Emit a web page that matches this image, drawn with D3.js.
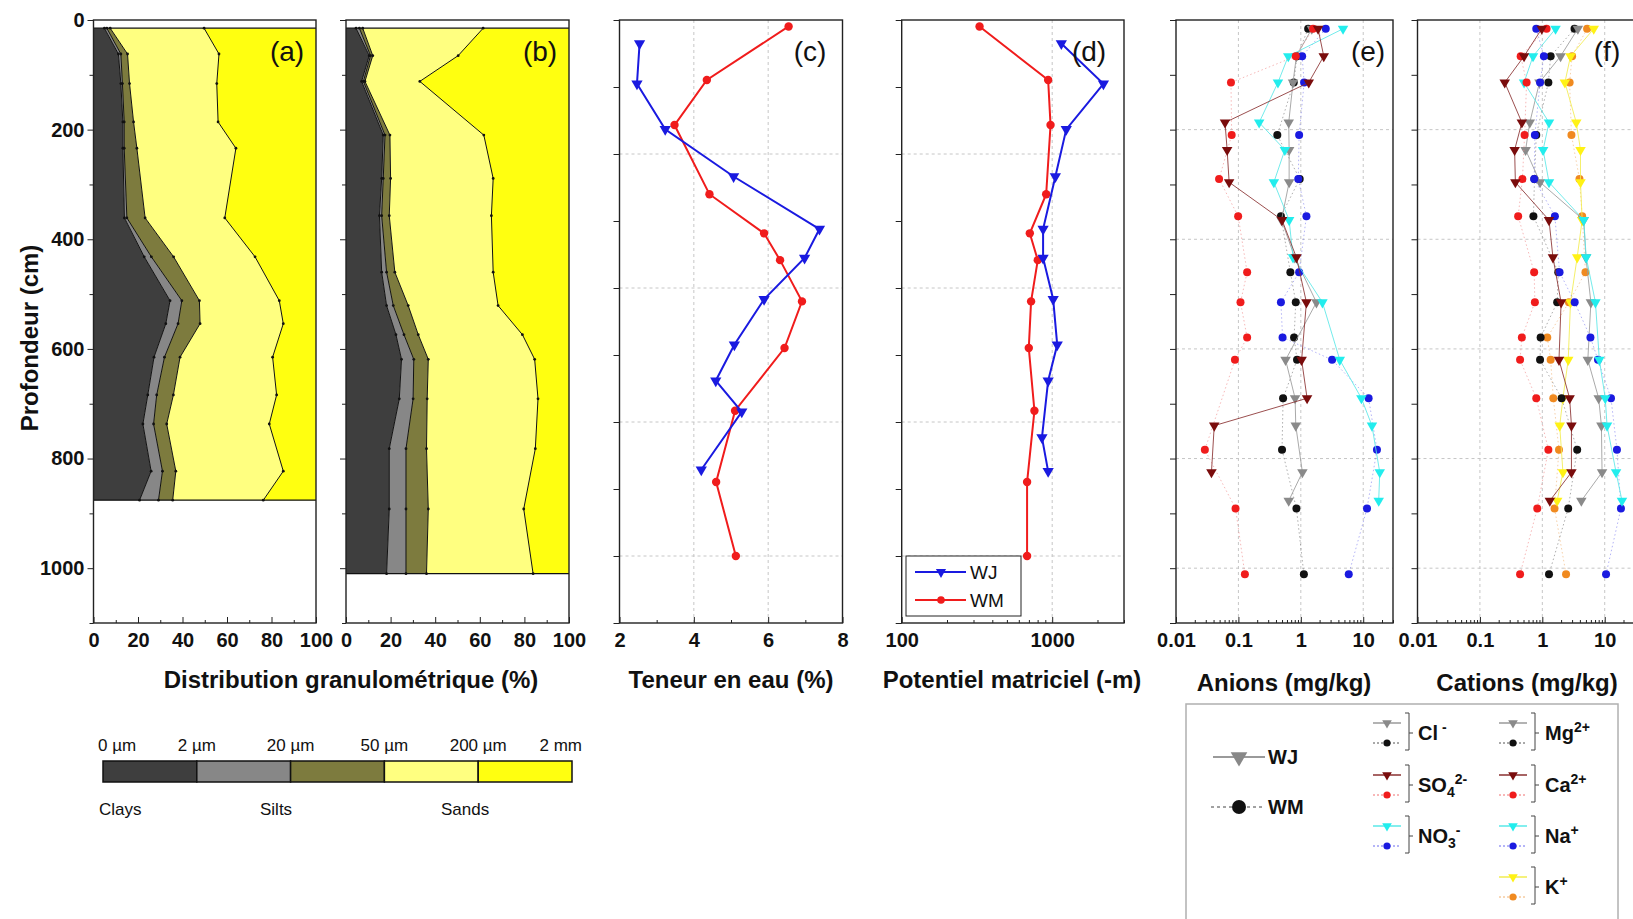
<!DOCTYPE html>
<html>
<head>
<meta charset="utf-8">
<title>Profils WJ / WM</title>
<script src="https://cdn.jsdelivr.net/npm/d3@7"></script>
<style>
  body { margin: 0; background: #fff; }
  svg text { font-family: Arial, "Liberation Sans", Helvetica, sans-serif; }
</style>
</head>
<body>
<script>
/* GLOBALS */
var W = 1633, H = 919;
var yTop = 20, yBot = 623;
var FONT = 'Arial, "Liberation Sans", sans-serif';

/* DATA */
// (a) granulometry WJ : depth (cm) and cumulative % finer than each size limit
var depthA = [15, 62, 116, 186, 234, 361, 432, 512, 554, 615, 684, 737, 823, 876];
var a2um   = [4.9, 11.2, 12.3, 13.2, 13.2, 13.9, 22.8, 34.4, 32.5, 27.2, 24.4, 22.2, 25.9, 20.7];
var a20um  = [6, 12.3, 13, 13.8, 13.8, 15, 26, 39.7, 38, 31.9, 28.4, 27, 31, 29.2];
var a50um  = [7.5, 15.3, 16.2, 18, 19.5, 23.2, 36, 47.6, 47.9, 38.9, 35.9, 32.9, 37, 35.6];
var a200um = [49.7, 56.4, 55.4, 56, 64, 59, 72.6, 83.5, 85.3, 80.5, 82.3, 79, 85.3, 76.3];

// (b) granulometry WM
var depthB = [15, 65, 112, 210, 289, 357, 460, 521, 574, 619, 691, 782, 892, 1010];
var b2um   = [4.5, 10.4, 7, 16.7, 16, 15, 16, 18.2, 22.4, 24.9, 23.9, 19.4, 19.4, 18.2];
var b20um  = [6, 11, 7.8, 17.5, 16.7, 16, 18.2, 21.2, 26, 30.4, 30.1, 26.9, 26.9, 26.9];
var b50um  = [7.5, 12, 8.5, 19.7, 20, 19.4, 21.9, 27.9, 32.4, 36.9, 36.4, 36.1, 36.9, 36.1];
var b200um = [61.5, 50.3, 33.1, 61.8, 66, 65.2, 66, 68.2, 79.1, 84.6, 86.1, 84.9, 79.7, 83.9];

// (c) water content (%) and (d) matric potential (-m)
var depthC_WJ = [44, 119, 204, 292, 390, 444, 521, 606, 673, 731, 839];
var depthD_WJ = [44, 119, 204, 292, 390, 444, 521, 606, 673, 779, 842];
var depthCD_WM = [12, 112, 196, 325, 398, 448, 525, 612, 729, 862, 1000];
var waterWJ = [2.54, 2.47, 3.23, 5.07, 7.38, 6.98, 5.89, 5.09, 4.59, 5.29, 4.20];
var waterWM = [6.55, 4.35, 3.48, 4.42, 5.89, 6.32, 6.91, 6.44, 5.11, 4.60, 5.13];
var potWJ = [1150, 2190, 1240, 1050, 870, 870, 1015, 1080, 940, 855, 940];
var potWM = [329, 940, 975, 912, 710, 802, 724, 699, 762, 681, 681];

// (e) anions and (f) cations (mg/kg)
var depthWJ = [16, 66, 114, 187, 237, 296, 365, 433, 515, 620, 690, 740, 825, 877];
var depthWM = [16, 66, 114, 210, 290, 358, 460, 515, 579, 620, 690, 784, 891, 1011];
var clWJ  = [1.5, 0.85, 0.75, 0.64, 0.65, 0.65, 0.49, 0.8, 1.78, 0.57, 0.81, 0.83, 1.06, 0.64];
var clWM  = [1.31, 0.87, 0.77, 0.42, 0.96, 0.48, 0.68, 0.83, 0.78, 0.87, 0.52, 0.50, 0.85, 1.12];
var so4WJ = [1.89, 2.33, 1.34, 0.061, 0.066, 0.071, 0.5, 0.85, 1.23, 1.03, 1.26, 0.041, 0.037, null];
var so4WM = [1.57, 0.83, 0.076, 0.078, 0.049, 0.099, 0.138, 0.108, 0.138, 0.088, null, 0.029, 0.090, 0.127];
var no3WJ = [4.75, 0.63, 0.43, 0.215, 0.555, 0.37, 0.65, 0.75, 2.22, 4.21, 9.35, 13.8, 18.4, 17.7];
var no3WM = [2.51, 1.05, 1.13, 0.94, 0.91, 1.23, 0.94, 0.48, 0.51, 3.17, 12.2, 16.6, 11.5, 5.86];
var mgWJ  = [3.71, 1.96, 0.9, 0.63, 0.54, 0.92, 4.6, 5.0, 6.0, 5.36, 8.0, 8.85, 9.06, 4.22];
var mgWM  = [3.28, 1.36, 1.25, 0.8, 0.75, 0.72, 1.8, 1.73, 0.94, 0.92, 2.04, 3.62, 2.6, 1.28];
var caWJ  = [0.98, 0.51, 0.25, 0.47, 0.36, 0.37, 1.28, 1.48, 2.0, 1.85, 2.74, 2.93, 2.93, 1.32];
var caWM  = [1.17, 0.45, 0.56, 0.52, 0.48, 0.41, 0.74, 0.76, 0.47, 0.44, 0.8, 1.25, 0.83, 0.44];
var naWJ  = [1.63, 0.71, 0.51, 1.28, 1.03, 1.28, 4.62, 5.05, 7.1, 8.2, 10.2, 10.9, 15.2, 18.9];
var naWM  = [0.8, 1.06, 0.92, 0.76, 0.74, 1.59, 1.89, 3.3, 5.9, 7.8, 12.6, 15.7, 18.2, 10.5];
var kWJ   = [6.67, 2.83, 2.3, 3.5, 4.09, 4.09, 4.35, 3.62, 2.83, 2.6, 2.14, 1.9, 2.14, 1.73];
var kWM   = [5.22, 3.0, 2.74, 2.93, 3.94, 4.35, 4.91, 2.67, 1.2, 1.36, 1.5, 1.85, 1.57, 2.4];

// tick labels and legend texts
var granTicks = [0, 20, 40, 60, 80, 100];
var waterTicks = [2, 4, 6, 8];
var potTicks = [100, 1000];
var ionTicks = [0.01, 0.1, 1, 10];
var sizeLimits = ['0 µm', '2 µm', '20 µm', '50 µm', '200 µm', '2 mm'];
var fractionNames = ['Clays', 'Silts', 'Sands'];
var siteNames = ['WJ', 'WM'];

/* STYLE */
var granColors = ['#3e3e3e', '#878787', '#7d7b3e', '#ffff80', '#ffff10'];
var C = {
  gray: '#8a8a8a', black: '#111111', dred: '#7a0c0c', red: '#f01c1c',
  cyan: '#22eded', blue: '#1a1ae0', yellow: '#fff215', orange: '#f08a20'
};

/* SCALES */
var yGran = d3.scaleLinear().domain([0, 1100]).range([yTop, yBot]);
var yWater = d3.scaleLinear().domain([0, 1125]).range([yTop, yBot]);
var yChem = d3.scaleLinear().domain([0, 1100]).range([yTop, yBot]);

var xA = d3.scaleLinear().domain([0, 100]).range([93.5, 316]);
var xB = d3.scaleLinear().domain([0, 100]).range([346, 569]);
var xC = d3.scaleLinear().domain([2, 8]).range([619.5, 842.5]);
var xD = d3.scaleLog().domain([100, 3000]).range([901.7, 1124]);
var xE = d3.scaleLog().domain([0.01, 30]).range([1176, 1393]);
var xF = d3.scaleLog().domain([0.01, 30]).range([1417.5, 1634.5]);

var svg = d3.select('body').append('svg')
  .attr('width', W)
  .attr('height', H);

var noLabel = function () { return ''; };
var down = function (size) { return d3.symbol().type(d3.symbolTriangle).size(size)(); };

function styleAxis(g) {
  g.attr('font-family', FONT).attr('font-size', 20).attr('font-weight', 'bold');
  g.select('.domain').remove();
  g.selectAll('.tick line').attr('stroke', '#222');
  g.selectAll('.tick text').attr('fill', '#111');
}

// log minor ticks between two decades
function logMinor(lo, hi) {
  var out = [];
  for (var p = lo; p < hi; p *= 10) {
    for (var k = 2; k <= 9; k++) { if (p * k <= hi) out.push(p * k); }
  }
  return out;
}

/* FRAME : grid, ticks, border */
function frame(x, y, o) {
  var x0 = x.range()[0], x1 = x.range()[1];
  var g = svg.append('g');

  g.selectAll('line.gx').data(o.gridX || []).enter().append('line')
    .attr('x1', function (d) { return x(d); }).attr('x2', function (d) { return x(d); })
    .attr('y1', yTop).attr('y2', yBot)
    .attr('stroke', '#c6c6c6').attr('stroke-dasharray', '3,3');
  g.selectAll('line.gy').data(o.gridY || []).enter().append('line')
    .attr('x1', x0).attr('x2', x1)
    .attr('y1', function (d) { return y(d); }).attr('y2', function (d) { return y(d); })
    .attr('stroke', '#c6c6c6').attr('stroke-dasharray', '3,3');

  // Y-Axis
  var ay = g.append('g').attr('transform', 'translate(' + x0 + ',0)')
    .call(d3.axisLeft(y).tickValues(o.yTicks).tickSize(6).tickFormat(o.yFormat || noLabel));
  styleAxis(ay);
  if (o.yMinor) {
    var aym = g.append('g').attr('transform', 'translate(' + x0 + ',0)')
      .call(d3.axisLeft(y).tickValues(o.yMinor).tickSize(4).tickFormat(noLabel));
    styleAxis(aym);
  }

  // X-Axis
  var ax = g.append('g').attr('transform', 'translate(0,' + yBot + ')')
    .call(d3.axisBottom(x).tickValues(o.xTicks).tickSizeInner(-6).tickSizeOuter(0)
      .tickPadding(10).tickFormat(o.xFormat));
  styleAxis(ax);
  if (o.xMinor) {
    var axm = g.append('g').attr('transform', 'translate(0,' + yBot + ')')
      .call(d3.axisBottom(x).tickValues(o.xMinor).tickSizeInner(-3).tickSizeOuter(0).tickFormat(noLabel));
    styleAxis(axm);
  }

  g.append('rect')
    .attr('x', x0).attr('y', yTop)
    .attr('width', x1 - x0).attr('height', yBot - yTop)
    .attr('fill', 'none').attr('stroke', '#222').attr('stroke-width', 1.4);
  return g;
}

/* GRANULOMETRY (stacked areas) */
function granulo(x, depth, cums) {
  var rows = depth.map(function (d, i) {
    return { d: d, c: [0, cums[0][i], cums[1][i], cums[2][i], cums[3][i], 100] };
  });
  var g = svg.append('g');
  granColors.forEach(function (col, k) {
    g.append('path').datum(rows)
      .attr('fill', col)
      .attr('d', d3.area()
        .y(function (r) { return yGran(r.d); })
        .x0(function (r) { return x(r.c[k]); })
        .x1(function (r) { return x(r.c[k + 1]); }));
  });
  [1, 2, 3, 4].forEach(function (k) {
    g.append('path').datum(rows)
      .attr('fill', 'none').attr('stroke', '#111').attr('stroke-width', 1)
      .attr('d', d3.line()
        .x(function (r) { return x(r.c[k]); })
        .y(function (r) { return yGran(r.d); }));
    g.selectAll('.dot' + k).data(rows).enter().append('circle')
      .attr('r', 1.4).attr('fill', '#111')
      .attr('cx', function (r) { return x(r.c[k]); })
      .attr('cy', function (r) { return yGran(r.d); });
  });
  [depth[0], depth[depth.length - 1]].forEach(function (d) {
    g.append('line')
      .attr('x1', x(0)).attr('x2', x(100))
      .attr('y1', yGran(d)).attr('y2', yGran(d))
      .attr('stroke', '#111').attr('stroke-width', 1.2);
  });
}

/* PROFILE LINE + MARKERS */
function profile(x, y, depth, vals, o) {
  var pts = depth.map(function (d, i) { return { d: d, v: vals[i] }; })
    .filter(function (p) { return p.v != null; });
  svg.append('path').datum(pts)
    .attr('fill', 'none')
    .attr('stroke', o.line)
    .attr('stroke-width', o.lw || 1)
    .attr('stroke-opacity', o.lo || 1)
    .attr('stroke-dasharray', o.dash || null)
    .attr('d', d3.line().x(function (p) { return x(p.v); }).y(function (p) { return y(p.d); }));
  if (o.tri) {
    svg.selectAll(null).data(pts).enter().append('path')
      .attr('d', down(o.size))
      .attr('fill', o.fill)
      .attr('transform', function (p) { return 'translate(' + x(p.v) + ',' + y(p.d) + ') rotate(180)'; });
  } else {
    svg.selectAll(null).data(pts).enter().append('circle')
      .attr('r', o.r)
      .attr('fill', o.fill)
      .attr('cx', function (p) { return x(p.v); })
      .attr('cy', function (p) { return y(p.d); });
  }
}

/* PANELS */
// (a)
granulo(xA, depthA, [a2um, a20um, a50um, a200um]);
frame(xA, yGran, {
  yTicks: d3.range(0, 1001, 200), yMinor: d3.range(100, 1101, 200), yFormat: d3.format('d'),
  xTicks: granTicks, xMinor: d3.range(10, 100, 20), xFormat: d3.format('d')
});
// (b)
granulo(xB, depthB, [b2um, b20um, b50um, b200um]);
frame(xB, yGran, {
  yTicks: d3.range(0, 1101, 200), yMinor: d3.range(100, 1101, 200),
  xTicks: granTicks, xMinor: d3.range(10, 100, 20), xFormat: d3.format('d')
});
// (c)
frame(xC, yWater, {
  yTicks: d3.range(0, 1126, 125), gridX: [4, 6], gridY: [250, 500, 750, 1000],
  xTicks: waterTicks, xMinor: [3, 5, 7], xFormat: d3.format('d')
});
profile(xC, yWater, depthCD_WM, waterWM, { line: C.red, lw: 2, fill: C.red, r: 4.2 });
profile(xC, yWater, depthC_WJ, waterWJ, { line: C.blue, lw: 2, fill: C.blue, tri: true, size: 55 });
// (d)
frame(xD, yWater, {
  yTicks: d3.range(0, 1126, 125), gridX: [1000], gridY: [250, 500, 750, 1000],
  xTicks: potTicks, xMinor: logMinor(100, 3000), xFormat: d3.format('d')
});
profile(xD, yWater, depthCD_WM, potWM, { line: C.red, lw: 2, fill: C.red, r: 4.2 });
profile(xD, yWater, depthD_WJ, potWJ, { line: C.blue, lw: 2, fill: C.blue, tri: true, size: 55 });

// (e) and (f)
var ionFrame = {
  yTicks: d3.range(0, 1101, 100), gridX: [0.1, 1, 10], gridY: [200, 400, 600, 800, 1000],
  xTicks: ionTicks, xMinor: logMinor(0.01, 30), xFormat: d3.format('~g')
};
frame(xE, yChem, ionFrame);
frame(xF, yChem, ionFrame);

function ionPair(x, wj, wm, cWJ, cWM, lWJ, lWM) {
  profile(x, yChem, depthWM, wm, { line: lWM, dash: '1.5,2.5', lo: 0.6, fill: cWM, r: 4 });
  profile(x, yChem, depthWJ, wj, { line: lWJ, lo: 0.85, fill: cWJ, tri: true, size: 48 });
}
ionPair(xE, clWJ, clWM, C.gray, C.black, '#9a9a9a', '#777');
ionPair(xE, no3WJ, no3WM, C.cyan, C.blue, '#5ae8e8', '#8080f0');
ionPair(xE, so4WJ, so4WM, C.dred, C.red, '#8a3030', '#f08888');

ionPair(xF, kWJ, kWM, C.yellow, C.orange, '#f2ec50', '#f0b070');
ionPair(xF, mgWJ, mgWM, C.gray, C.black, '#9a9a9a', '#777');
ionPair(xF, naWJ, naWM, C.cyan, C.blue, '#5ae8e8', '#8080f0');
ionPair(xF, caWJ, caWM, C.dred, C.red, '#8a3030', '#f08888');

/* PANEL LETTERS AND TITLES */
var letters = [['(a)', 287], ['(b)', 540], ['(c)', 810], ['(d)', 1089], ['(e)', 1368], ['(f)', 1607]];
letters.forEach(function (l) {
  svg.append('text').text(l[0])
    .attr('x', l[1]).attr('y', 61)
    .attr('text-anchor', 'middle').attr('font-size', 28).attr('fill', '#111');
});

var titles = [
  ['Distribution granulométrique (%)', 351, 688],
  ['Teneur en eau (%)', 731, 688],
  ['Potentiel matriciel (-m)', 1012, 688],
  ['Anions (mg/kg)', 1284, 691],
  ['Cations (mg/kg)', 1527, 691]
];
titles.forEach(function (t) {
  svg.append('text').text(t[0])
    .attr('x', t[1]).attr('y', t[2])
    .attr('text-anchor', 'middle').attr('font-size', 24).attr('font-weight', 'bold').attr('fill', '#111');
});
svg.append('text').text('Profondeur (cm)')
  .attr('transform', 'translate(29,338) rotate(-90)')
  .attr('text-anchor', 'middle').attr('dominant-baseline', 'central')
  .attr('font-size', 24).attr('font-weight', 'bold').attr('fill', '#111');

/* LEGEND (d) */
var legD = svg.append('g');
legD.append('rect').attr('x', 906).attr('y', 556).attr('width', 115).attr('height', 60)
  .attr('fill', '#fff').attr('stroke', '#222').attr('stroke-width', 1);
[[C.blue, true, 572], [C.red, false, 600]].forEach(function (e, i) {
  legD.append('line').attr('x1', 915).attr('x2', 966).attr('y1', e[2]).attr('y2', e[2])
    .attr('stroke', e[0]).attr('stroke-width', 2);
  if (e[1]) {
    legD.append('path').attr('d', down(45)).attr('fill', e[0])
      .attr('transform', 'translate(941,' + e[2] + ') rotate(180)');
  } else {
    legD.append('circle').attr('cx', 941).attr('cy', e[2]).attr('r', 3.8).attr('fill', e[0]);
  }
  legD.append('text').text(siteNames[i]).attr('x', 970).attr('y', e[2])
    .attr('dominant-baseline', 'central').attr('font-size', 19).attr('fill', '#111');
});

/* LEGEND : grain size scale */
var bx = d3.scaleLinear().domain([0, 5]).range([103, 572]);
var legA = svg.append('g');
granColors.forEach(function (col, i) {
  legA.append('rect')
    .attr('x', bx(i)).attr('y', 761).attr('width', bx(i + 1) - bx(i)).attr('height', 21)
    .attr('fill', col).attr('stroke', '#111').attr('stroke-width', 1.5);
});
sizeLimits.forEach(function (s, i) {
  var anchor = i === 0 ? 'start' : (i === 5 ? 'end' : 'middle');
  var xx = i === 0 ? bx(0) - 5 : (i === 5 ? bx(5) + 10 : bx(i));
  legA.append('text').text(s).attr('x', xx).attr('y', 751)
    .attr('text-anchor', anchor).attr('font-size', 17).attr('fill', '#111');
});
[99, 260, 441].forEach(function (xx, i) {
  legA.append('text').text(fractionNames[i]).attr('x', xx).attr('y', 815)
    .attr('font-size', 17).attr('fill', '#111');
});

/* LEGEND : ions */
var legI = svg.append('g');
legI.append('rect').attr('x', 1186).attr('y', 704).attr('width', 432).attr('height', 240)
  .attr('fill', 'none').attr('stroke', '#b0b0b0').attr('stroke-width', 1.5);

legI.append('line').attr('x1', 1213).attr('x2', 1265).attr('y1', 757).attr('y2', 757)
  .attr('stroke', '#9a9a9a').attr('stroke-width', 2);
legI.append('path').attr('d', down(120)).attr('fill', '#888')
  .attr('transform', 'translate(1239,757) rotate(180)');
legI.append('line').attr('x1', 1211).attr('x2', 1263).attr('y1', 807).attr('y2', 807)
  .attr('stroke', '#444').attr('stroke-width', 1).attr('stroke-dasharray', '3,3');
legI.append('circle').attr('cx', 1239).attr('cy', 807).attr('r', 7).attr('fill', '#111');
[757, 807].forEach(function (yy, i) {
  legI.append('text').text(siteNames[i]).attr('x', 1268).attr('y', yy)
    .attr('dominant-baseline', 'central').attr('font-size', 20).attr('font-weight', 'bold').attr('fill', '#111');
});

var ionLegend = [
  { col: 0, row: 0, name: [['Cl'], [' -', 'sup']], wj: C.gray, wm: C.black, lj: '#9a9a9a', lm: '#555' },
  { col: 0, row: 1, name: [['SO'], ['4', 'sub'], ['2-', 'sup']], wj: C.dred, wm: C.red, lj: '#8a3030', lm: '#f07070' },
  { col: 0, row: 2, name: [['NO'], ['3', 'sub'], ['-', 'sup']], wj: C.cyan, wm: C.blue, lj: '#5ae8e8', lm: '#6a6af0' },
  { col: 1, row: 0, name: [['Mg'], ['2+', 'sup']], wj: C.gray, wm: C.black, lj: '#9a9a9a', lm: '#555' },
  { col: 1, row: 1, name: [['Ca'], ['2+', 'sup']], wj: C.dred, wm: C.red, lj: '#8a3030', lm: '#f07070' },
  { col: 1, row: 2, name: [['Na'], ['+', 'sup']], wj: C.cyan, wm: C.blue, lj: '#5ae8e8', lm: '#6a6af0' },
  { col: 1, row: 3, name: [['K'], ['+', 'sup']], wj: C.yellow, wm: C.orange, lj: '#f2ec50', lm: '#f0b070' }
];
var colX = [1387, 1513], brX = [1409, 1535], txtX = [1418, 1545], rowY = [723, 775, 826, 877];

ionLegend.forEach(function (e) {
  var cx = colX[e.col], y0 = rowY[e.row], y1 = y0 + 20, b = brX[e.col];
  legI.append('line').attr('x1', cx - 14).attr('x2', cx + 14).attr('y1', y0).attr('y2', y0)
    .attr('stroke', e.lj).attr('stroke-width', 1.5);
  legI.append('path').attr('d', down(40)).attr('fill', e.wj)
    .attr('transform', 'translate(' + cx + ',' + y0 + ') rotate(180)');
  legI.append('line').attr('x1', cx - 14).attr('x2', cx + 14).attr('y1', y1).attr('y2', y1)
    .attr('stroke', e.lm).attr('stroke-width', 1).attr('stroke-dasharray', '2,2');
  legI.append('circle').attr('cx', cx).attr('cy', y1).attr('r', 3.6).attr('fill', e.wm);
  legI.append('path')
    .attr('d', 'M' + (b - 4) + ',' + (y0 - 10) + 'H' + b + 'V' + (y1 + 7) + 'H' + (b - 4) +
      'M' + b + ',' + ((y0 + y1) / 2) + 'H' + (b + 4))
    .attr('fill', 'none').attr('stroke', '#444').attr('stroke-width', 1);

  var t = legI.append('text').attr('x', txtX[e.col]).attr('y', (y0 + y1) / 2 + 7)
    .attr('font-size', 20).attr('font-weight', 'bold').attr('fill', '#111');
  var shift = 0;
  e.name.forEach(function (part) {
    var target = part[1] === 'sup' ? -8 : (part[1] === 'sub' ? 5 : 0);
    t.append('tspan').text(part[0])
      .attr('dy', target - shift)
      .attr('font-size', part[1] ? 14 : 20);
    shift = target;
  });
});
</script>
</body>
</html>
